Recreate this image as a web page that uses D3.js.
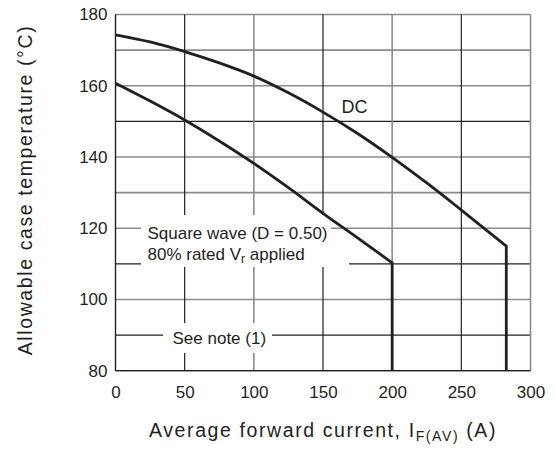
<!DOCTYPE html>
<html>
<head>
<meta charset="utf-8">
<script src="https://cdn.jsdelivr.net/npm/d3@7"></script>
<style>
  html, body { margin: 0; padding: 0; background: #fff; }
  svg { display: block; }
  text { font-family: "Liberation Sans", Arial, Helvetica, sans-serif; fill: #231f20; }
</style>
</head>
<body>
<svg id="chart" width="555" height="454"></svg>
<script>
// ---- data ----
const xTicks = [0, 50, 100, 150, 200, 250, 300];
const yTicks = [80, 100, 120, 140, 160, 180];
const yGridValues = [80, 90, 100, 110, 120, 130, 140, 150, 160, 170, 180];
const xGridValues = [0, 50, 100, 150, 200, 250, 300];

const dcCurrent = [0, 25, 50, 75, 100, 125, 150, 175, 200, 225, 250, 282.5];
const dcTemp    = [174.3, 172.3, 169.6, 166.4, 162.7, 158.0, 152.6, 146.6, 139.9, 132.7, 125.1, 115.0];

const sqCurrent = [0, 25, 50, 75, 100, 125, 150, 175, 200];
const sqTemp    = [160.7, 155.7, 150.4, 144.5, 138.2, 131.4, 124.2, 117.3, 110.3];

const floorTemp = 80;

const xLabel = "Average forward current, I";
const xLabelSub = "F(AV)";
const xLabelTail = " (A)";
const yLabel = "Allowable case temperature (°C)";
const dcLabel = "DC";
const sqLabel1 = "Square wave (D = 0.50)";
const sqLabel2a = "80% rated V";
const sqLabel2sub = "r";
const sqLabel2b = " applied";
const noteLabel = "See note (1)";

// ---- scales ----
const x = d3.scaleLinear().domain([0, 300]).range([115.5, 530.5]);
const y = d3.scaleLinear().domain([80, 180]).range([370.7, 14.5]);

const svg = d3.select("#chart");
const ink = "#231f20";
const gray = "#8c8c8c";

// grid colours (scan-like alternation of dark and gray lines)
const darkY = new Set([80, 90, 110, 150]);
const darkX = new Set([0, 50, 150, 250]);

const grid = svg.append("g");
grid.selectAll("line.h").data(yGridValues).join("line")
  .attr("class", "h")
  .attr("x1", x(0)).attr("x2", x(300))
  .attr("y1", d => y(d)).attr("y2", d => y(d))
  .attr("stroke", d => darkY.has(d) ? ink : gray)
  .attr("stroke-width", d => darkY.has(d) ? 1.2 : 1.6);
grid.selectAll("line.v").data(xGridValues).join("line")
  .attr("class", "v")
  .attr("y1", y(80)).attr("y2", y(180))
  .attr("x1", d => x(d)).attr("x2", d => x(d))
  .attr("stroke", d => darkX.has(d) ? ink : gray)
  .attr("stroke-width", d => darkX.has(d) ? 1.2 : 1.6);

// annotation backgrounds (break the grid)
const bg = svg.append("g").attr("fill", "#fff");
bg.append("rect").attr("x", 141).attr("y", 215).attr("width", 190).attr("height", 27);
bg.append("rect").attr("x", 141).attr("y", 241).attr("width", 208).attr("height", 26);
bg.append("rect").attr("x", 163).attr("y", 323).attr("width", 109).attr("height", 30);

// redraw left and bottom frame on top
svg.append("line").attr("x1", x(0)).attr("x2", x(0)).attr("y1", y(80)).attr("y2", y(180))
  .attr("stroke", ink).attr("stroke-width", 1.2);
svg.append("line").attr("x1", x(0)).attr("x2", x(300)).attr("y1", y(80)).attr("y2", y(80))
  .attr("stroke", ink).attr("stroke-width", 1.2);

// curves
const line = d3.line().x(d => x(d[0])).y(d => y(d[1])).curve(d3.curveMonotoneX);
function curvePath(cur, temp) {
  const pts = cur.map((c, i) => [c, temp[i]]);
  const last = pts[pts.length - 1];
  return line(pts) + "L" + x(last[0]) + "," + y(floorTemp);
}
svg.append("path").attr("d", curvePath(dcCurrent, dcTemp))
  .attr("fill", "none").attr("stroke", ink).attr("stroke-width", 2.8).attr("stroke-linejoin", "miter");
svg.append("path").attr("d", curvePath(sqCurrent, sqTemp))
  .attr("fill", "none").attr("stroke", ink).attr("stroke-width", 2.8).attr("stroke-linejoin", "miter");

// axes tick labels
const yAxis = svg.append("g").attr("transform", `translate(${x(0)},0)`)
  .call(d3.axisLeft(y).tickValues(yTicks).tickSize(0).tickPadding(8).tickFormat(d3.format("d")));
yAxis.select(".domain").remove();
yAxis.selectAll("text").attr("font-size", 17).attr("font-family", null).attr("fill", ink);

const xAxis = svg.append("g").attr("transform", `translate(0,${y(80)})`)
  .call(d3.axisBottom(x).tickValues(xTicks).tickSize(0).tickPadding(15).tickFormat(d3.format("d")));
xAxis.select(".domain").remove();
xAxis.selectAll("text").attr("font-size", 17).attr("font-family", null).attr("fill", ink);

// axis titles
const xt = svg.append("text").attr("x", (x(0) + x(300)) / 2).attr("y", 436.5)
  .attr("text-anchor", "middle").attr("font-size", 19.5).style("letter-spacing", "1.6px");
xt.append("tspan").text(xLabel);
xt.append("tspan").attr("font-size", 14).attr("dy", 4).text(xLabelSub);
xt.append("tspan").attr("dy", -4).text(xLabelTail);

svg.append("text").attr("transform", `translate(32,190) rotate(-90)`)
  .attr("text-anchor", "middle").attr("font-size", 19.5).style("letter-spacing", "1.6px")
  .text(yLabel);

// annotations
svg.append("text").attr("x", 341.5).attr("y", 113).attr("font-size", 18).text(dcLabel);
svg.append("text").attr("x", 147.5).attr("y", 238.5).attr("font-size", 17).text(sqLabel1);
const t2 = svg.append("text").attr("x", 147.5).attr("y", 260).attr("font-size", 17);
t2.append("tspan").text(sqLabel2a);
t2.append("tspan").attr("font-size", 12).attr("dy", 3).text(sqLabel2sub);
t2.append("tspan").attr("dy", -3).text(sqLabel2b);
svg.append("text").attr("x", 172.5).attr("y", 343.5).attr("font-size", 17).text(noteLabel);
</script>
</body>
</html>
